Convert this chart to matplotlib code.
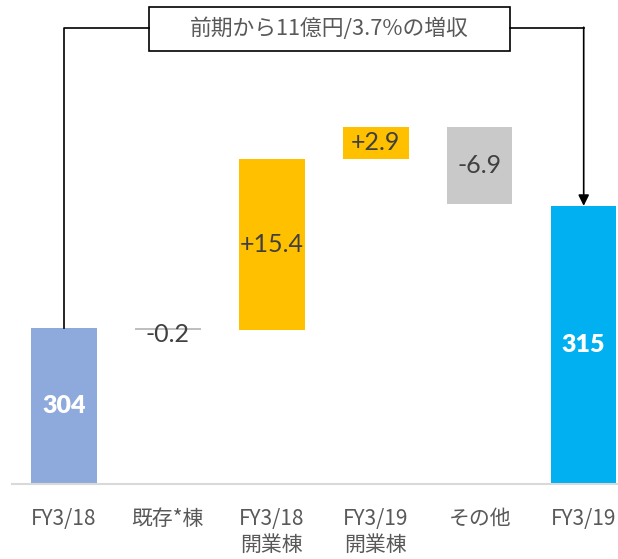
import matplotlib
matplotlib.use("Agg")
import matplotlib.pyplot as plt
from matplotlib.patches import Rectangle

plt.rcParams['font.family'] = ['Noto Sans CJK JP', 'DejaVu Sans']

# データ
labels = ['FY3/18', '既存*棟', 'FY3/18\n開業棟', 'FY3/19\n開業棟', 'その他', 'FY3/19']
start = 304
changes = [-0.2, 15.4, 2.9, -6.9]
end = 315
change_text = ['-0.2', '+15.4', '+2.9', '-6.9']
change_colors = ['#BFBFBF', '#FFC000', '#FFC000', '#C9C9C9']
note = '前期から11億円/3.7%の増収'

fig = plt.figure(figsize=(6.18, 5.59), dpi=100)
ax = fig.add_axes([12/618, 75/559, 606/618, 484/559])
ymin, ymax = 290, 333.5

# 最初と最後の棒
ax.bar(0, start, width=0.63, color='#8EA9DB')
ax.bar(5, end, width=0.63, color='#00B0F0')
ax.text(0, (ymin + start) / 2, str(start), ha='center', va='center',
        color='white', fontsize=18, fontweight='heavy', family='Lato')
ax.text(5, (ymin + end) / 2, str(end), ha='center', va='center',
        color='white', fontsize=18, fontweight='heavy', family='Lato')

# 増減の棒
total = start
for i, c in enumerate(changes):
    x = i + 1
    if c >= 0:
        bottom = total
    else:
        bottom = total + c
    ax.bar(x, abs(c), bottom=bottom, width=0.63, color=change_colors[i])
    dy = -4 if abs(c) < 1 else 0
    ax.annotate(change_text[i], (x, bottom + abs(c) / 2), xytext=(0, dy),
                textcoords='offset points', ha='center', va='center',
                color='#404040', fontsize=18, family='Lato')
    total += c

# 矢印と枠
yline = 331
box_l, box_r = 0.82, 4.29
box_b, box_t = 328.9, 332.85
ax.plot([0, 0, box_l], [start, yline, yline], color='black', lw=1.2, clip_on=False)
ax.plot([box_r, 5], [yline, yline], color='black', lw=1.2, clip_on=False)
ax.annotate('', xy=(5, end), xytext=(5, yline + 0.05),
            arrowprops=dict(arrowstyle='-|>', color='black', lw=1.2,
                            mutation_scale=16, shrinkA=0, shrinkB=0))
ax.add_patch(Rectangle((box_l, box_b), box_r - box_l, box_t - box_b,
                       facecolor='white', edgecolor='black', lw=1.2, clip_on=False))
ax.text((box_l + box_r) / 2, (box_b + box_t) / 2, note, ha='center', va='center',
        color='#595959', fontsize=15.7)

ax.set_xlim(-0.5, 5.33)
ax.set_ylim(ymin, ymax)
ax.set_xticks(range(len(labels)))
ax.set_xticklabels(labels, fontsize=15, color='#595959', linespacing=1.25)
ax.set_yticks([])
ax.tick_params(axis='x', length=0, pad=17)
for s in ['top', 'right', 'left']:
    ax.spines[s].set_visible(False)
ax.spines['bottom'].set_color('#D9D9D9')
ax.spines['bottom'].set_linewidth(1.5)

fig.savefig('out.png', dpi=100)
